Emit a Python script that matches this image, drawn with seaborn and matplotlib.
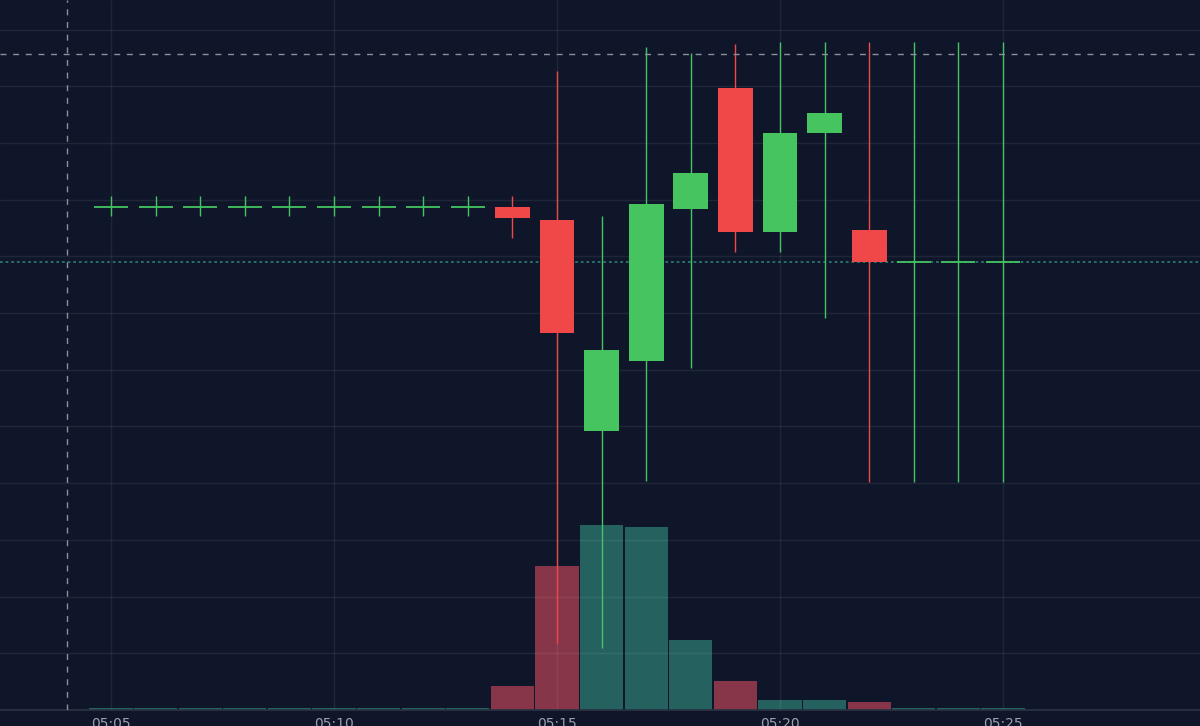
import numpy as np
import pandas as pd
import seaborn as sns
import matplotlib.pyplot as plt


# Datos de las velas (1 minuto)
times = ["05:05", "05:06", "05:07", "05:08", "05:09", "05:10", "05:11", "05:12", "05:13",
         "05:14", "05:15", "05:16", "05:17", "05:18", "05:19", "05:20", "05:21", "05:22",
         "05:23", "05:24", "05:25"]
opens = [104.440, 104.440, 104.440, 104.440, 104.440, 104.440, 104.440, 104.440, 104.440,
         104.438, 104.321, 102.460, 103.078, 104.418, 105.488, 104.213, 105.091, 104.233,
         103.953, 103.953, 103.953]
closes = [104.440, 104.440, 104.440, 104.440, 104.440, 104.440, 104.440, 104.440, 104.440,
          104.341, 103.327, 103.175, 104.462, 104.733, 104.213, 105.091, 105.265, 103.948,
          103.953, 103.953, 103.953]
highs = [104.533, 104.533, 104.533, 104.533, 104.533, 104.533, 104.533, 104.533, 104.533,
         104.533, 105.638, 104.359, 105.844, 105.791, 105.873, 105.888, 105.888, 105.888,
         105.888, 105.888, 105.888]
lows = [104.352, 104.352, 104.352, 104.352, 104.352, 104.352, 104.352, 104.352, 104.352,
        104.162, 100.591, 100.547, 102.015, 103.019, 104.041, 104.041, 103.454, 102.013,
        102.013, 102.013, 102.013]
volumes = [16, 16, 16, 16, 16, 16, 16, 16, 16,
           243, 1443, 1847, 1827, 703, 293, 103, 97, 83,
           16, 16, 16]

crosshair_x = -0.99        # 05:04
crosshair_price = 105.787

bg = "#0f1629"
green = "#45c45f"
red = "#f04848"
vol_green = "#25615f"
vol_red = "#863648"

sns.set_theme(style="dark", rc={"figure.facecolor": bg, "axes.facecolor": bg})

df = pd.DataFrame({"time": times, "open": opens, "close": closes,
                   "high": highs, "low": lows, "volume": volumes})
df["dir"] = np.where(df["close"] >= df["open"], "up", "down")
x = np.arange(len(df))
xlim = (-2.489, 24.417)

fig = plt.figure(figsize=(12, 7.26), dpi=100)
rect = [0, 16 / 726, 1, 710 / 726]
ax_vol = fig.add_axes(rect)
ax = fig.add_axes(rect)
ax.patch.set_visible(False)

# Volumen
sns.barplot(data=df, x="time", y="volume", hue="dir",
            palette={"up": vol_green, "down": vol_red},
            dodge=False, width=0.965, saturation=1, legend=False,
            linewidth=0, ax=ax_vol)
ax_vol.set_xlim(xlim)
ax_vol.set_ylim(0, 7100)
ax_vol.axis("off")

# Velas
up = (df["dir"] == "up").to_numpy()
colors = np.where(up, green, red)
ax.vlines(x, df["low"], df["high"], colors=colors, lw=1.0, zorder=2)
doji = (df["open"] == df["close"]).to_numpy()
body_low = np.minimum(df["open"], df["close"])
body_h = np.abs(df["close"] - df["open"])
ax.bar(x[~doji], body_h[~doji], bottom=body_low[~doji], width=0.78,
       color=colors[~doji], linewidth=0, zorder=3)
ax.hlines(df["close"][doji], x[doji] - 0.38, x[doji] + 0.38,
          colors=colors[doji], lw=1.3, zorder=3)

# Lineas de precio
ax.axhline(df["close"].iloc[-1], color="#26706e", ls=(0, (1.4, 1.5)), lw=1.4, zorder=1)
ax.axhline(crosshair_price, color="#8a909c", ls=(0, (4.3, 4.8)), lw=1, zorder=4)
ax.axvline(crosshair_x, color="#8a909c", ls=(0, (4.3, 4.8)), lw=1, zorder=4)

ax.set_xlim(xlim)
ax.set_ylim(100, 106.261)
ax.set_yticks(np.arange(100, 106.3, 0.5))
ax.set_xticks(x[::5])
ax.set_xticklabels(df["time"][::5])
ax.grid(True, color="white", alpha=0.07, lw=1)
ax.tick_params(axis="y", labelleft=False, length=0)
ax.tick_params(axis="x", length=0, pad=5, labelsize=10, labelcolor="#9ba1ad")
for s in ["top", "left", "right"]:
    ax.spines[s].set_visible(False)
ax.spines["bottom"].set_color("#2a3244")

fig.savefig("out.png", dpi=100, facecolor=bg)
